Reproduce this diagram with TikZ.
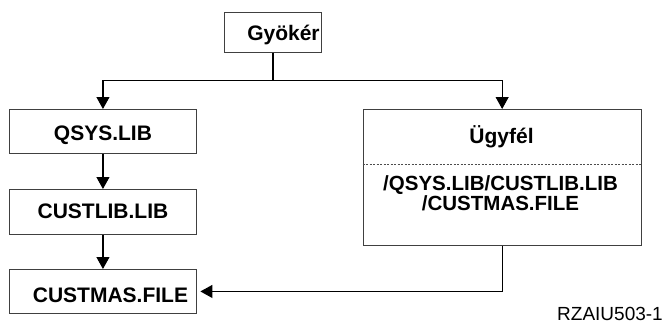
\documentclass[tikz,border=0pt]{standalone}
\usepackage{fontspec}
\setmainfont{Liberation Sans}
\usetikzlibrary{arrows.meta}
\begin{document}
\begin{tikzpicture}[x=1pt,y=-1pt,
  box/.style={draw=black!75,line width=0.9pt,inner sep=0pt,anchor=north west,
    font=\fontsize{21}{17}\selectfont\bfseries},
  lbl/.style={inner sep=0pt,anchor=base,font=\fontsize{21}{17}\selectfont\bfseries},
  link/.style={draw=black,line width=1.1pt},
  arr/.style={link,-{Triangle[length=12pt,width=13pt]}}]
\useasboundingbox (0,0) rectangle (666,324);

% root of the tree
\node[box,minimum width=97pt,text height=28pt,text depth=11.7pt] (root) at (224,12) {\hspace*{21pt}Gyökér};

% library chain on the left
\node[box,minimum width=187pt,text height=31pt,text depth=13pt] (qsys) at (9,109) {QSYS.LIB};
\node[box,minimum width=187pt,text height=29pt,text depth=16pt] (custlib) at (9,189) {CUSTLIB.LIB};
\node[box,minimum width=187pt,text height=33pt,text depth=11pt] (custmas) at (9,269) {\hspace*{15pt}CUSTMAS.FILE};

% client box with its path
\node[box,minimum width=278pt,minimum height=136pt] (client) at (362.7,109) {};
\node[lbl] (clienttitle) at (501.5,143) {Ügyfél};
\draw[black!70,line width=0.6pt,dash pattern=on 2pt off 1.5pt] (client.west |- 0,164) -- (client.east |- 0,164);
\node[lbl,font=\fontsize{20.5}{17}\selectfont\bfseries] (pathA) at (500.5,190.5) {/QSYS.LIB/CUSTLIB.LIB};
\node[lbl,font=\fontsize{20.5}{17}\selectfont\bfseries] (pathB) at (500.5,210.5) {/CUSTMAS.FILE};

% figure id
\node[inner sep=0pt,anchor=base east,font=\fontsize{19}{19}\selectfont] (figid) at (663,320) {RZAIU503-1};

% connectors
\coordinate (split) at (root.south |- 0,80.7);
\draw[link] (root.south) -- (split);
\draw[arr] (split) -| (qsys.north);
\draw[arr] (split) -| (client.north);
\draw[arr] (qsys) -- (custlib);
\draw[arr] (custlib) -- (custmas);
\draw[arr,shorten >=3.5pt] (client.south) |- (custmas.east);
\end{tikzpicture}
\end{document}
